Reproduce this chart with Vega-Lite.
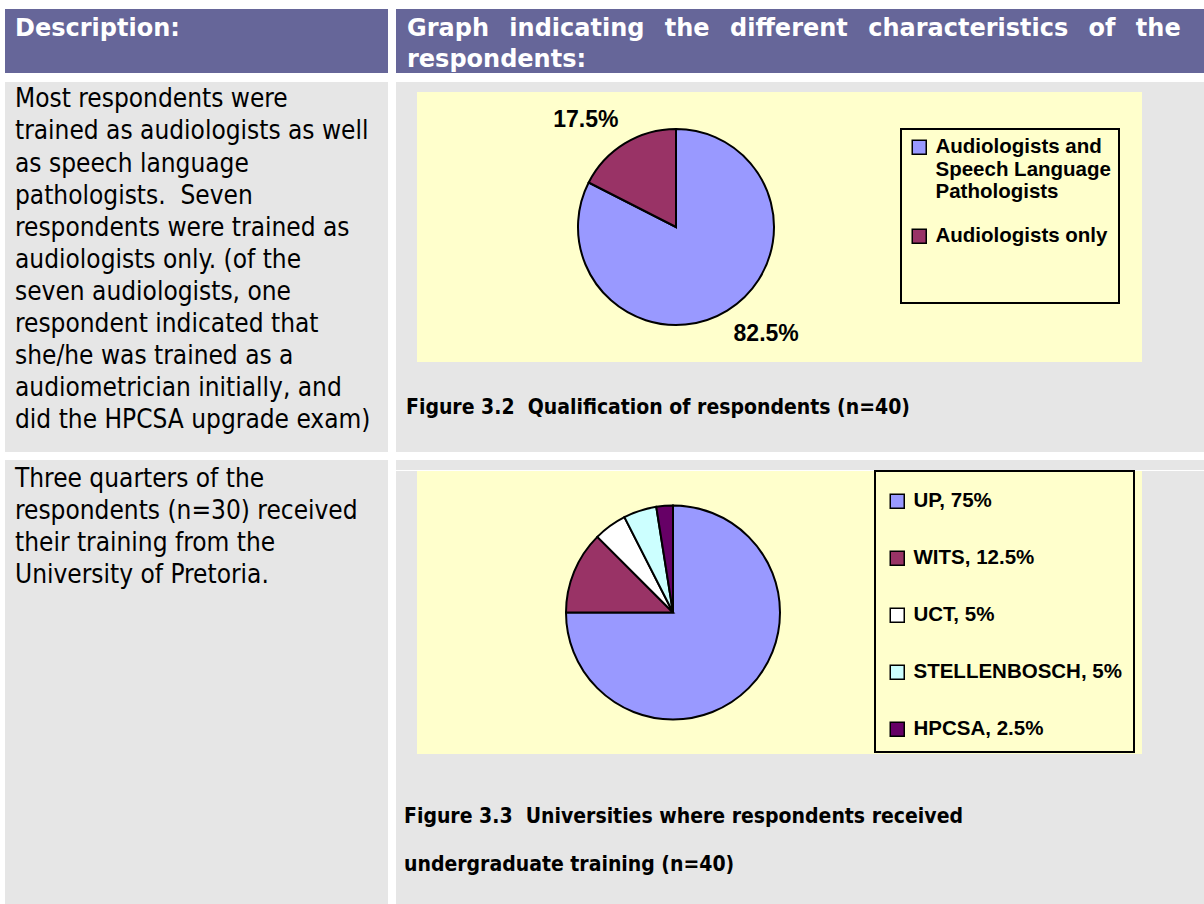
{
  "$schema": "https://vega.github.io/schema/vega-lite/v6.json",
  "background": "white",
  "padding": {"left": 5, "top": 9, "right": 0, "bottom": 0},
  "config": {"view": {"stroke": null}, "legend": {"strokeWidth": 2}},
  "spacing": 9,
  "resolve": {"scale": {"color": "independent"}, "legend": {"color": "independent"}},
  "vconcat": [
    {
      "hconcat": [
        {
          "width": 383, "height": 64,
          "view": {"fill": "#666699"},
          "data": {"values": [{"i": 0, "t": "Description:"}]},
          "mark": {"type": "text", "align": "left", "baseline": "alphabetic", "font": "DejaVu Sans", "fontWeight": "bold", "fontSize": 24, "color": "white"},
          "encoding": {
            "x": {"datum": 0, "type": "quantitative", "scale": {"domain": [0, 1], "range": [10, 383]}, "axis": null},
            "y": {"field": "i", "type": "quantitative", "scale": {"domain": [0, 1], "range": [26.5, 58], "nice": false, "zero": false}, "axis": null},
            "text": {"field": "t"}
          }
        },
        {
          "width": 808, "height": 64,
          "view": {"fill": "#666699"},
          "data": {"values": [
            {"i": 0, "t": "Graph \u2002indicating \u2002the \u2002different \u2002characteristics \u2002of \u2002the"},
            {"i": 1, "t": "respondents:"}
          ]},
          "mark": {"type": "text", "align": "left", "baseline": "alphabetic", "font": "DejaVu Sans", "fontWeight": "bold", "fontSize": 24, "color": "white"},
          "encoding": {
            "x": {"datum": 0, "type": "quantitative", "scale": {"domain": [0, 1], "range": [11, 808]}, "axis": null},
            "y": {"field": "i", "type": "quantitative", "scale": {"domain": [0, 1], "range": [26.5, 58], "nice": false, "zero": false}, "axis": null},
            "text": {"field": "t"}
          }
        }
      ],
      "spacing": 8
    },
    {
      "vconcat": [
        {
          "hconcat": [
            {
              "width": 383, "height": 370,
              "view": {"fill": "#e6e6e6"},
              "data": {"values": [
                {"i": 0, "t": "Most respondents were"},
                {"i": 1, "t": "trained as audiologists as well"},
                {"i": 2, "t": "as speech language"},
                {"i": 3, "t": "pathologists.\u00a0 Seven"},
                {"i": 4, "t": "respondents were trained as"},
                {"i": 5, "t": "audiologists only. (of the"},
                {"i": 6, "t": "seven audiologists, one"},
                {"i": 7, "t": "respondent indicated that"},
                {"i": 8, "t": "she/he was trained as a"},
                {"i": 9, "t": "audiometrician initially, and"},
                {"i": 10, "t": "did the HPCSA upgrade exam)"}
              ]},
              "mark": {"type": "text", "align": "left", "baseline": "alphabetic", "font": "DejaVu Sans Condensed", "fontSize": 26, "color": "black"},
              "encoding": {
                "x": {"datum": 0, "type": "quantitative", "scale": {"domain": [0, 1], "range": [10, 383]}, "axis": null},
                "y": {"field": "i", "type": "quantitative", "scale": {"domain": [0, 10], "range": [25.3, 346.3], "nice": false, "zero": false}, "axis": null},
                "text": {"field": "t"}
              }
            },
            {
              "vconcat": [
                {"width": 808, "height": 10, "view": {"fill": "#e6e6e6"}, "data": {"values": []}, "mark": "rect"},
                {
                  "hconcat": [
                    {"width": 21, "height": 270, "view": {"fill": "#e6e6e6"}, "data": {"values": []}, "mark": "rect"},
                    {
                      "width": 518, "height": 270,
                      "view": {"fill": "#ffffcc"},
                      "data": {"values": [
                        {"k": 1, "group": "Audiologists and Speech Language Pathologists", "pct": 82.5, "lab": "82.5%"},
                        {"k": 2, "group": "Audiologists only", "pct": 17.5, "lab": "17.5%"}
                      ]},
                      "encoding": {
                        "theta": {"field": "pct", "type": "quantitative", "stack": true},
                        "order": {"field": "k", "type": "quantitative"},
                        "color": {
                          "field": "group", "type": "nominal",
                          "scale": {"domain": ["Audiologists and Speech Language Pathologists", "Audiologists only"], "range": ["#9999ff", "#993366"]},
                          "legend": {
                            "orient": "none", "legendX": 505, "legendY": 37,
                            "title": " ", "titleOrient": "bottom", "titleFontSize": 20, "titlePadding": 28,
                            "labelExpr": "datum.value == 'Audiologists and Speech Language Pathologists' ? ['\u00a0Audiologists and', 'Speech Language', 'Pathologists'] : datum.label",
                            "labelFont": "Liberation Sans", "labelFontWeight": "bold", "labelFontSize": 20.5, "labelColor": "black", "labelLimit": 400, "labelOffset": 6,
                            "symbolType": "square", "symbolSize": 196, "symbolStrokeColor": "black", "symbolStrokeWidth": 1.5, "symbolOpacity": 1,
                            "fillColor": "#ffffcc", "strokeColor": "black", "padding": 8, "rowPadding": 23
                          }
                        }
                      },
                      "layer": [
                        {"mark": {"type": "arc", "outerRadius": 98, "stroke": "black", "strokeWidth": 2}},
                        {
                          "mark": {"type": "text", "radius": 140, "thetaOffset": -0.15, "font": "Liberation Sans", "fontWeight": "bold", "fontSize": 23, "color": "black"},
                          "encoding": {"text": {"field": "lab"}, "color": {"value": "black"}}
                        }
                      ]
                    },
                    {"width": 207, "height": 270, "view": {"fill": "#ffffcc"}, "data": {"values": []}, "mark": "rect"},
                    {"width": 62, "height": 270, "view": {"fill": "#e6e6e6"}, "data": {"values": []}, "mark": "rect"}
                  ],
                  "spacing": 0
                },
                {
                  "width": 808, "height": 90,
                  "view": {"fill": "#e6e6e6"},
                  "data": {"values": [{"i": 0, "t": "Figure 3.2\u00a0 Qualification of respondents (n=40)"}]},
                  "mark": {"type": "text", "align": "left", "baseline": "alphabetic", "font": "DejaVu Sans Condensed", "fontWeight": "bold", "fontSize": 21, "color": "black"},
                  "encoding": {
                    "x": {"datum": 0, "type": "quantitative", "scale": {"domain": [0, 1], "range": [10, 808]}, "axis": null},
                    "y": {"field": "i", "type": "quantitative", "scale": {"domain": [0, 1], "range": [52, 100], "nice": false, "zero": false}, "axis": null},
                    "text": {"field": "t"}
                  }
                }
              ],
              "spacing": 0,
              "resolve": {"scale": {"color": "independent"}, "legend": {"color": "independent"}}
            }
          ],
          "spacing": 8,
          "resolve": {"scale": {"color": "independent"}, "legend": {"color": "independent"}}
        },
        {
          "hconcat": [
            {
              "width": 383, "height": 444,
              "view": {"fill": "#e6e6e6"},
              "data": {"values": [
                {"i": 0, "t": "Three quarters of the"},
                {"i": 1, "t": "respondents (n=30) received"},
                {"i": 2, "t": "their training from the"},
                {"i": 3, "t": "University of Pretoria."}
              ]},
              "mark": {"type": "text", "align": "left", "baseline": "alphabetic", "font": "DejaVu Sans Condensed", "fontSize": 26, "color": "black"},
              "encoding": {
                "x": {"datum": 0, "type": "quantitative", "scale": {"domain": [0, 1], "range": [10, 383]}, "axis": null},
                "y": {"field": "i", "type": "quantitative", "scale": {"domain": [0, 3], "range": [27, 123], "nice": false, "zero": false}, "axis": null},
                "text": {"field": "t"}
              }
            },
            {
              "vconcat": [
                {"width": 808, "height": 10, "view": {"fill": "#e6e6e6"}, "data": {"values": []}, "mark": "rect"},
                {
                  "hconcat": [
                    {"width": 21, "height": 283, "view": {"fill": "#e6e6e6"}, "data": {"values": []}, "mark": "rect"},
                    {
                      "width": 512, "height": 283,
                      "view": {"fill": "#ffffcc"},
                      "data": {"values": [
                        {"k": 1, "uni": "UP, 75%", "pct": 75},
                        {"k": 2, "uni": "WITS, 12.5%", "pct": 12.5},
                        {"k": 3, "uni": "UCT, 5%", "pct": 5},
                        {"k": 4, "uni": "STELLENBOSCH, 5%", "pct": 5},
                        {"k": 5, "uni": "HPCSA, 2.5%", "pct": 2.5}
                      ]},
                      "mark": {"type": "arc", "outerRadius": 107, "stroke": "black", "strokeWidth": 2},
                      "encoding": {
                        "theta": {"field": "pct", "type": "quantitative", "stack": true},
                        "order": {"field": "k", "type": "quantitative"},
                        "color": {
                          "field": "uni", "type": "nominal",
                          "scale": {"domain": ["UP, 75%", "WITS, 12.5%", "UCT, 5%", "STELLENBOSCH, 5%", "HPCSA, 2.5%"], "range": ["#9999ff", "#993366", "#ffffff", "#ccffff", "#660066"]},
                          "legend": {
                            "orient": "none", "legendX": 479, "legendY": 0,
                            "title": " ", "titleOrient": "top", "titleFontSize": 8, "titlePadding": 0,
                            "labelFont": "Liberation Sans", "labelFontWeight": "bold", "labelFontSize": 20.5, "labelColor": "black", "labelLimit": 400, "labelOffset": 6,
                            "symbolType": "square", "symbolSize": 196, "symbolStrokeColor": "black", "symbolStrokeWidth": 1.5, "symbolOpacity": 1,
                            "fillColor": "#ffffcc", "strokeColor": "black", "padding": 12, "rowPadding": 36
                          }
                        }
                      }
                    },
                    {"width": 213, "height": 283, "view": {"fill": "#ffffcc"}, "data": {"values": []}, "mark": "rect"},
                    {"width": 62, "height": 283, "view": {"fill": "#e6e6e6"}, "data": {"values": []}, "mark": "rect"}
                  ],
                  "spacing": 0
                },
                {
                  "width": 808, "height": 151,
                  "view": {"fill": "#e6e6e6"},
                  "data": {"values": [
                    {"i": 0, "t": "Figure 3.3\u00a0 Universities where respondents received"},
                    {"i": 1, "t": "undergraduate training (n=40)"}
                  ]},
                  "mark": {"type": "text", "align": "left", "baseline": "alphabetic", "font": "DejaVu Sans Condensed", "fontWeight": "bold", "fontSize": 21, "color": "black"},
                  "encoding": {
                    "x": {"datum": 0, "type": "quantitative", "scale": {"domain": [0, 1], "range": [8, 808]}, "axis": null},
                    "y": {"field": "i", "type": "quantitative", "scale": {"domain": [0, 1], "range": [69, 117], "nice": false, "zero": false}, "axis": null},
                    "text": {"field": "t"}
                  }
                }
              ],
              "spacing": 0,
              "resolve": {"scale": {"color": "independent"}, "legend": {"color": "independent"}}
            }
          ],
          "spacing": 8,
          "resolve": {"scale": {"color": "independent"}, "legend": {"color": "independent"}}
        }
      ],
      "spacing": 8,
      "resolve": {"scale": {"color": "independent"}, "legend": {"color": "independent"}}
    }
  ]
}
